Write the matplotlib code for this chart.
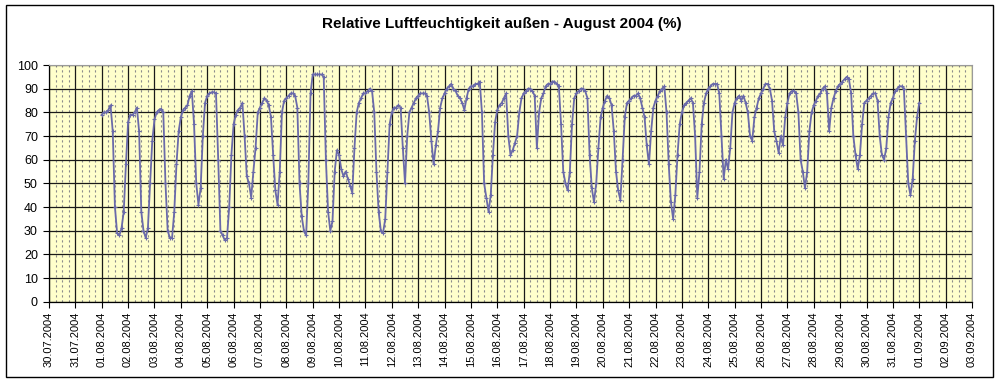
import matplotlib
matplotlib.use("Agg")
import matplotlib.pyplot as plt
import matplotlib.dates as mdates
import numpy as np
import pandas as pd
from matplotlib.patches import Rectangle

plt.rcParams["font.family"] = ["Liberation Sans", "DejaVu Sans"]

title = "Relative Luftfeuchtigkeit außen - August 2004 (%)"
x_start = "2004-07-30"
x_end = "2004-09-03"
data_start = "2004-08-01 00:00"
sample_hours = 2

# values read every 2 hours (0h, 2h, ... 22h) for each day
aug01 = [79, 80, 80, 81, 83, 72, 40, 29, 28, 31, 38, 58]
aug02 = [76, 79, 79, 80, 82, 72, 38, 30, 27, 31, 50, 68]
aug03 = [77, 80, 81, 81.5, 80, 50, 30, 27, 27, 38, 58, 72]
aug04 = [78, 81, 82, 83, 87, 89, 75, 50, 41, 48, 70, 84]
aug05 = [87, 88, 88.5, 88.5, 88, 60, 30, 28, 26, 27, 40, 62]
aug06 = [75, 79, 81, 82, 84, 70, 53, 50, 44, 55, 65, 80]
aug07 = [82, 84, 86, 85, 83, 78, 62, 47, 41, 55, 80, 85]
aug08 = [86, 87, 88, 88, 87, 82, 50, 36, 30, 28, 50, 88]
aug09 = [96, 96, 96, 96, 96, 95, 60, 38, 30, 34, 55, 64]
aug10 = [62, 56, 53, 55, 52, 49, 46, 65, 80, 84, 86, 88]
aug11 = [88, 89, 90, 89, 80, 55, 38, 30, 29, 35, 55, 75]
aug12 = [80, 82, 82, 83, 82, 65, 50, 70, 80, 82, 84, 86]
aug13 = [87, 88, 88, 88, 87, 80, 68, 58, 66, 72, 82, 86]
aug14 = [88, 90, 91, 92, 90, 89, 87, 86, 84, 81, 86, 90]
aug15 = [91, 91, 92, 92, 93, 80, 50, 44, 38, 45, 62, 76]
aug16 = [81, 83, 84, 86, 88, 70, 62, 64, 67, 70, 80, 86]
aug17 = [88, 89, 90, 90, 89, 87, 65, 80, 86, 88, 91, 92]
aug18 = [92, 93, 93, 92, 91, 75, 55, 50, 47, 55, 75, 86]
aug19 = [88, 89, 90, 90, 89, 86, 62, 48, 42, 50, 65, 78]
aug20 = [82, 85, 87, 86, 83, 72, 55, 47, 43, 60, 78, 84]
aug21 = [85, 86, 87, 87, 88, 86, 82, 78, 66, 58, 72, 82]
aug22 = [85, 87, 89, 90, 91, 80, 58, 42, 35, 45, 62, 75]
aug23 = [80, 83, 84, 85, 86, 84, 70, 44, 55, 75, 84, 88]
aug24 = [90, 91, 92, 92, 92, 88, 70, 52, 60, 56, 65, 80]
aug25 = [84, 86, 87, 85, 87, 84, 80, 70, 68, 78, 82, 86]
aug26 = [88, 90, 92, 92, 90, 85, 72, 68, 63, 70, 66, 78]
aug27 = [84, 88, 89, 89, 88, 80, 60, 55, 48, 55, 72, 80]
aug28 = [83, 85, 87, 88, 90, 91, 88, 72, 82, 86, 89, 91]
aug29 = [92, 93, 94, 95, 94, 88, 70, 62, 56, 62, 75, 84]
aug30 = [85, 86, 87, 88, 88, 85, 70, 62, 60, 65, 78, 84]
aug31 = [86, 89, 90, 91, 91, 90, 70, 50, 45, 52, 68, 78]
sep01 = [84]

days_values = [aug01, aug02, aug03, aug04, aug05, aug06, aug07, aug08, aug09, aug10,
               aug11, aug12, aug13, aug14, aug15, aug16, aug17, aug18, aug19, aug20,
               aug21, aug22, aug23, aug24, aug25, aug26, aug27, aug28, aug29, aug30,
               aug31, sep01]
humidity = [v for day in days_values for v in day]
times = pd.date_range(data_start, periods=len(humidity), freq=f"{sample_hours}h")

W, H = 1000, 382
fig = plt.figure(figsize=(W / 100, H / 100), dpi=100)
fig.patch.set_facecolor("white")

ax = fig.add_axes([49 / W, (H - 301.7) / H, (972 - 49) / W, (301.7 - 65) / H])
ax.set_facecolor("#FFFFCC")

ax.set_xlim(pd.Timestamp(x_start), pd.Timestamp(x_end))
ax.set_ylim(0, 100)
ax.set_yticks(np.arange(0, 101, 10))

ax.xaxis.set_major_locator(mdates.DayLocator())
ax.xaxis.set_major_formatter(mdates.DateFormatter("%d.%m.%Y"))
ax.xaxis.set_minor_locator(mdates.HourLocator(byhour=[6, 12, 18]))

ax.grid(which="minor", axis="x", color="#8c8c8c", linestyle=(0, (2, 2.5)), linewidth=0.8)
ax.grid(which="major", axis="both", color="#1a1a1a", linestyle="-", linewidth=0.9)
ax.set_axisbelow(True)

ax.plot(times, humidity, color="#6A6AAA", linewidth=1.3, marker="+",
        markersize=3.5, markeredgewidth=0.8, zorder=3)

for lbl in ax.get_xticklabels():
    lbl.set_rotation(90)
ax.tick_params(axis="x", which="major", labelsize=8, length=4, width=0.8, pad=3, colors="black")
ax.tick_params(axis="x", which="minor", length=0)
ax.tick_params(axis="y", labelsize=9, length=4, width=0.8, pad=4)

for side in ["left", "bottom"]:
    ax.spines[side].set_color("black")
    ax.spines[side].set_linewidth(0.9)
for side in ["top", "right"]:
    ax.spines[side].set_color("#9a9a9a")
    ax.spines[side].set_linewidth(0.8)

fig.text(502 / W, (H - 24) / H, title, ha="center", va="center",
         fontsize=11, fontweight="bold")

fig.patches.append(Rectangle((6 / W, 5 / H), (993 - 6) / W, (377 - 5) / H,
                             transform=fig.transFigure, fill=False,
                             edgecolor="black", linewidth=1.0))

fig.savefig("out.png", dpi=100)
